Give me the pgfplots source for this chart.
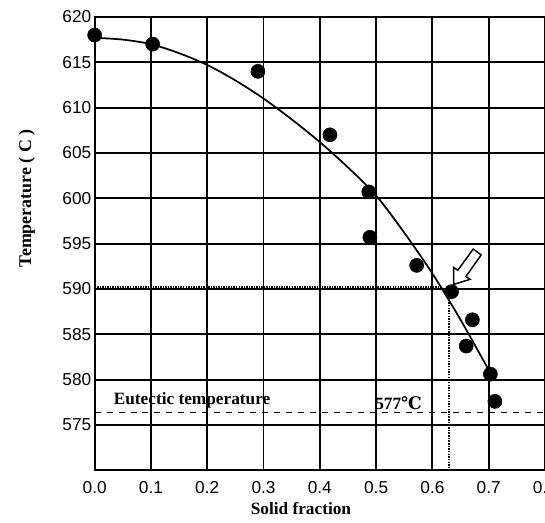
\documentclass[border=0pt]{standalone}
\usepackage{fontspec}
\setmainfont{Liberation Serif}
\setsansfont{Liberation Sans}
\newfontfamily\dvserif{DejaVu Serif}
\usepackage{pgfplots}
\pgfplotsset{compat=1.18}
\begin{document}
\begin{tikzpicture}
\begin{axis}[
  scale only axis, width=339pt, height=341.25pt,
  xmin=0, xmax=0.8, ymin=570, ymax=620,
  xtick={0,0.1,0.2,0.3,0.4,0.5,0.6,0.7,0.8},
  xticklabels={0.0,0.1,0.2,0.3,0.4,0.5,0.6,0.7,0.8},
  ytick={575,580,585,590,595,600,605,610,615,620},
  yticklabels={575,580,585,590,595,600,605,610,615,620},
  ticklabel style={font=\sffamily\fontsize{13}{14}\selectfont},
  xticklabel style={yshift=-4.5pt},
  yticklabel style={xshift=1pt},
  grid=major, grid style={black, line width=1.45pt},
  axis line style={black, line width=1.5pt},
  major tick length=0pt,
  clip=false,
]
\addplot[black, line width=1.3pt, smooth, tension=0.5] coordinates {
 (0,617.7) (0.05,617.5) (0.1,617.0) (0.15,616.0) (0.2,614.7) (0.25,613.0)
 (0.3,611.0) (0.35,608.7) (0.4,606.2) (0.45,603.4) (0.5,600.3) (0.55,596.2)
 (0.6,591.7) (0.65,586.6) (0.705,580.5)};
\addplot[only marks, mark=*, mark size=5.3pt, black] coordinates {
 (0.0,618) (0.103,617) (0.29,614) (0.418,607) (0.487,600.7) (0.489,595.7)
 (0.572,592.6) (0.634,589.7) (0.671,586.6) (0.660,583.7) (0.703,580.6) (0.711,577.6)};
\addplot[black, line width=2.8pt, dash pattern=on 1.1pt off 0.8pt] coordinates {(0,590.1) (0.615,590.1)};
\addplot[black, line width=1.6pt, dash pattern=on 1.1pt off 0.9pt] coordinates {(0.63,590) (0.63,570)};
\addplot[black, line width=0.6pt, dash pattern=on 4.5pt off 4.5pt] coordinates {(0,576.4) (0.8,576.4)};
\node[font=\bfseries\fontsize{13}{14}\selectfont] at (axis cs:0.173,577.7) {Eutectic temperature};
\node[font=\bfseries\fontsize{13}{14}\selectfont] at (axis cs:0.54,577.4) {577{\dvserif\bfseries ℃}};
\draw[black, line width=1.1pt, fill=white] (axis cs:0.638,590.5) -- +(12.2pt,3.8pt) -- +(9.2pt,6.0pt)
  -- +(20.6pt,22.2pt) -- +(14.6pt,26.6pt) -- +(3.0pt,10.6pt) -- +(-0.2pt,12.8pt) -- cycle;
\path (rel axis cs:0,0.6) ++(-51pt,0pt) node[rotate=90, font=\bfseries\fontsize{13.5}{14}\selectfont] {Temperature ( C )};
\path (rel axis cs:0.458,0) ++(0pt,-28.5pt) node[font=\bfseries\fontsize{13}{14}\selectfont] {Solid fraction};
\end{axis}
\pgfresetboundingbox
\path ([xshift=-71.25pt,yshift=-39pt]current axis.south west) rectangle ([yshift=12.75pt]current axis.north east);
\end{tikzpicture}
\end{document}
